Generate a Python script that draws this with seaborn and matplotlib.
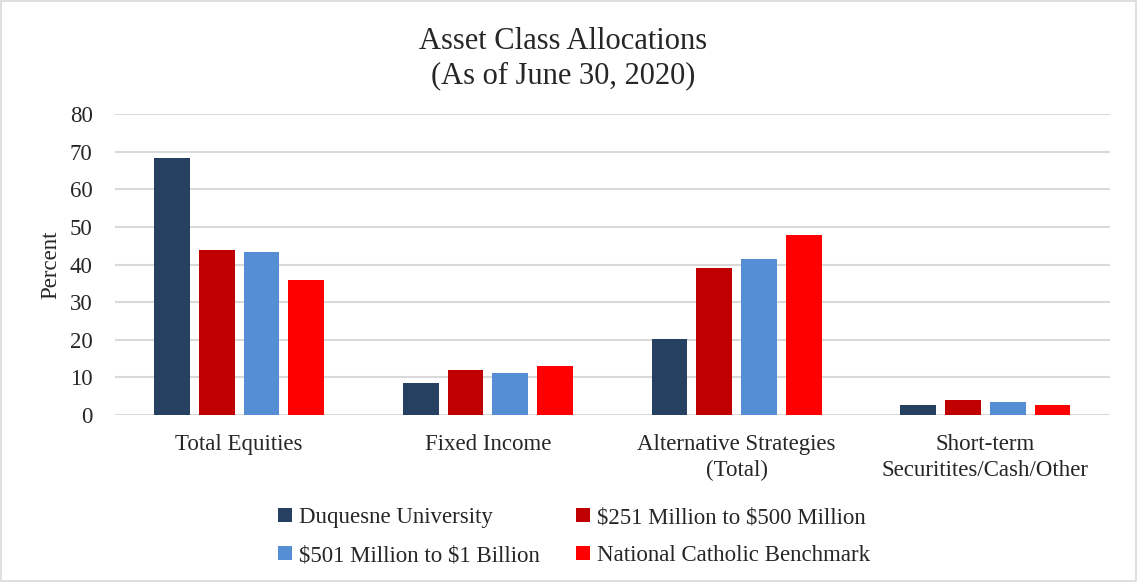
import matplotlib
matplotlib.use("Agg")
import matplotlib.pyplot as plt
import pandas as pd
import seaborn as sns

categories = ["Total Equities", "Fixed Income", "Alternative Strategies\n(Total)",
              "Short-term\nSecuritites/Cash/Other"]
series = ["Duquesne University", "$251 Million to $500 Million",
          "$501 Million to $1 Billion", "National Catholic Benchmark"]
duquesne = [68.4, 8.5, 20.2, 2.7]
mid_small = [43.9, 12.0, 39.1, 4.0]
mid_large = [43.2, 11.2, 41.6, 3.5]
benchmark = [35.8, 13.1, 47.9, 2.7]
colors = ["#264061", "#C00000", "#558ED5", "#FF0000"]

rows = []
for name, vals in zip(series, [duquesne, mid_small, mid_large, benchmark]):
    for cat, v in zip(categories, vals):
        rows.append({"Category": cat, "Series": name, "Percent": v})
df = pd.DataFrame(rows)

sns.set_theme(style="white")
plt.rcParams["font.family"] = ["Liberation Serif", "DejaVu Serif"]
plt.rcParams["mathtext.default"] = "regular"

fig = plt.figure(figsize=(11.37, 5.82), dpi=100)
ax = fig.add_axes([0.101, 0.287, 0.875, 0.517])

sns.barplot(data=df, x="Category", y="Percent", hue="Series", palette=colors,
            gap=0.2, width=0.72, ax=ax, saturation=1, edgecolor="none")

ax.set_ylim(0, 80)
ax.set_yticks(range(0, 81, 10))
ax.yaxis.grid(True, color="#D9D9D9", linewidth=1.5)
ax.set_axisbelow(True)
for s in ax.spines.values():
    s.set_visible(False)
ax.tick_params(axis="both", length=0, labelsize=16.5, pad=14)
ax.tick_params(axis="y", pad=16)
ax.set_xlabel("")
ax.set_ylabel("Percent", fontsize=16.5, labelpad=6)
for lbl in ax.get_xticklabels():
    lbl.set_linespacing(1.3)

fig.suptitle("Asset Class Allocations\n(As of June 30, 2020)", fontsize=22,
             x=0.495, y=0.953, linespacing=1.2)

handles, labels = ax.get_legend_handles_labels()
labels = [l.replace("$", r"\$") for l in labels]
order = [0, 2, 1, 3]
ax.get_legend().remove()
fig.legend([handles[i] for i in order], [labels[i] for i in order], ncol=2,
           loc="center", bbox_to_anchor=(0.505, 0.078), frameon=False, fontsize=16.5,
           handlelength=0.6, handleheight=0.6, handletextpad=0.3, columnspacing=1.6,
           labelspacing=0.75)

fig.add_artist(plt.Rectangle((0.001, 0.001), 0.998, 0.998, transform=fig.transFigure,
                             fill=False, edgecolor="#D9D9D9", linewidth=1.2))

fig.savefig("out.png", dpi=100)
